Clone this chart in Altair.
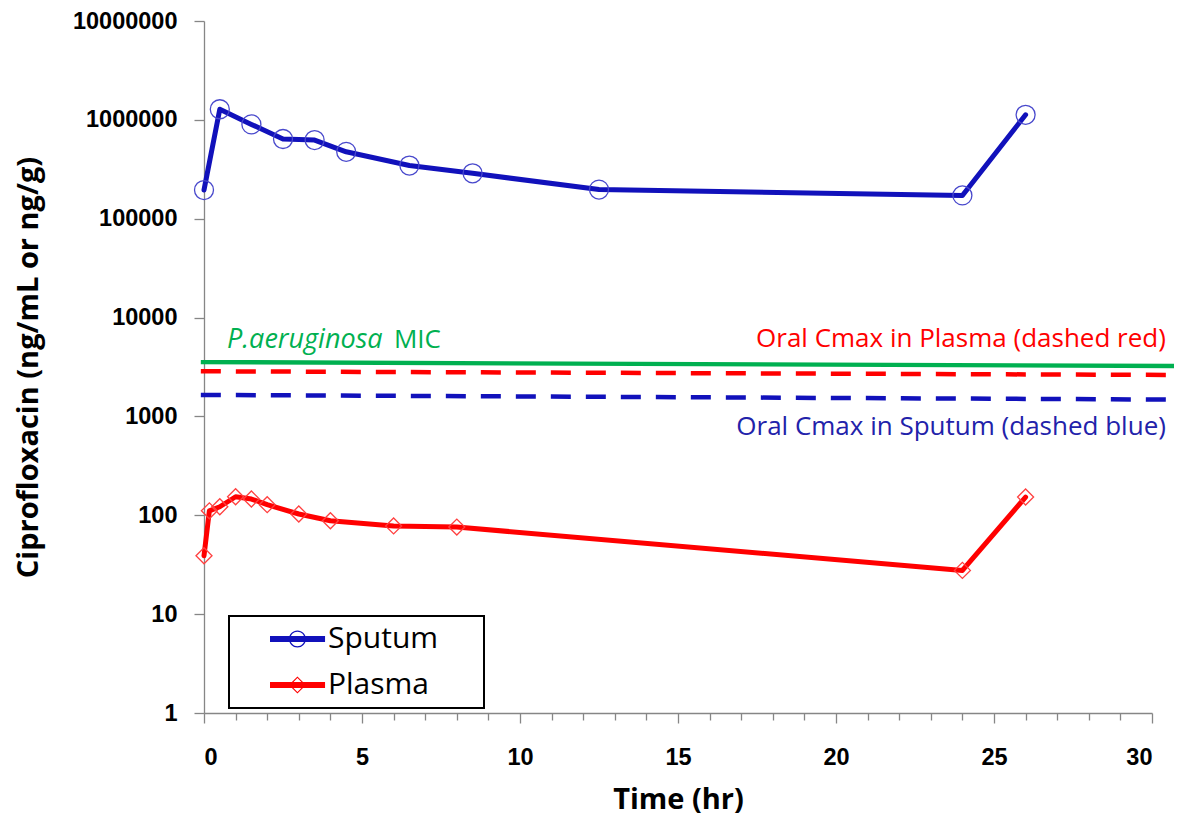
import altair as alt
import pandas as pd

# ---------------- data ----------------
sputum_time = [0, 0.5, 1.5, 2.5, 3.5, 4.5, 6.5, 8.5, 12.5, 24, 26]
sputum_conc = [195000, 1280000, 900000, 640000, 625000, 475000, 345000, 288000, 197000, 172000, 1125000]

plasma_time = [0, 0.17, 0.5, 1, 1.5, 2, 3, 4, 6, 8, 24, 26]
plasma_conc = [39, 111, 122, 154, 146, 128, 103, 88, 78, 76, 27.7, 153]

ref_time = [-0.1, 30.9]
mic_conc = [3550, 3235]
oral_plasma_cmax = [2863, 2625]
oral_sputum_cmax = [1650, 1479]

series_names = ["Sputum", "Plasma"]
y_ticks = [1, 10, 100, 1000, 10000, 100000, 1000000, 10000000]
x_ticks = list(range(0, 31))

ann_text = ["P.aeruginosa", "MIC", "Oral Cmax in Plasma (dashed red)", "Oral Cmax in Sputum (dashed blue)"]
ann_time = [0.73, 6.01, 30.44, 30.44]
ann_conc = [4920, 4920, 5030, 652]

# ---------------- styles ----------------
BLUE = "#1111BB"
BLUE_MK = "#4848CC"
RED = "#FF0000"
RED_MK = "#FF4040"
GREEN = "#00B050"
AXIS_GRAY = "#868686"
FONT = "Open Sans"
TICK_FONT = "Liberation Sans"

x_scale = alt.Scale(domain=[0, 30], nice=False, zero=False)
y_scale = alt.Scale(type="log", domain=[1, 10000000], nice=False)

x_axis = alt.Axis(
    values=x_ticks,
    labelExpr="datum.value % 5 === 0 ? datum.label : ''",
    tickSize={"condition": {"test": "datum.value % 5 === 0", "value": 10}, "value": 7},
    labelPadding=22,
    title="Time (hr)",
    titleBaseline="middle",
    titleY=86,
    grid=False,
)
y_axis = alt.Axis(
    values=y_ticks,
    format="d",
    tickSize=10,
    labelPadding=17,
    title="Ciprofloxacin (ng/mL or ng/g)",
    titleBaseline="middle",
    titleX=-176,
    grid=False,
)


def xy(df_x="t", df_y="c"):
    return dict(
        x=alt.X(f"{df_x}:Q", scale=x_scale, axis=x_axis),
        y=alt.Y(f"{df_y}:Q", scale=y_scale, axis=y_axis),
    )


sputum_df = pd.DataFrame({"t": sputum_time, "c": sputum_conc})
plasma_df = pd.DataFrame({"t": plasma_time, "c": plasma_conc})
mic_df = pd.DataFrame({"t": ref_time, "c": mic_conc})
orp_df = pd.DataFrame({"t": ref_time, "c": oral_plasma_cmax})
ors_df = pd.DataFrame({"t": ref_time, "c": oral_sputum_cmax})
ann_df = pd.DataFrame({"t": ann_time, "c": ann_conc, "label": ann_text})

mic_line = alt.Chart(mic_df).mark_line(color=GREEN, strokeWidth=4.3).encode(**xy())
orp_line = alt.Chart(orp_df).mark_line(color=RED, strokeWidth=4.5, strokeDash=[20, 15]).encode(**xy())
ors_line = alt.Chart(ors_df).mark_line(color=BLUE, strokeWidth=4.5, strokeDash=[20, 15]).encode(**xy())

sputum_line = alt.Chart(sputum_df).mark_line(
    color=BLUE, strokeWidth=5, strokeJoin="round", strokeCap="round"
).encode(**xy())
sputum_pts = alt.Chart(sputum_df).mark_point(
    shape="circle", filled=False, size=361, stroke=BLUE_MK, strokeWidth=1.3, opacity=1
).encode(**xy())

plasma_line = alt.Chart(plasma_df).mark_line(
    color=RED, strokeWidth=5, strokeJoin="round", strokeCap="round"
).encode(**xy())
plasma_pts = alt.Chart(plasma_df).mark_point(
    shape="diamond", filled=False, size=256, stroke=RED_MK, strokeWidth=1.3, opacity=1
).encode(**xy())

txt_mic_a = alt.Chart(ann_df).transform_filter("datum.label == 'P.aeruginosa'").mark_text(
    align="left", baseline="alphabetic", font=FONT, fontSize=27, fontStyle="italic", color=GREEN
).encode(text="label:N", **xy())
txt_mic_b = alt.Chart(ann_df).transform_filter("datum.label == 'MIC'").mark_text(
    align="left", baseline="alphabetic", font=FONT, fontSize=26, color=GREEN
).encode(text="label:N", **xy())
txt_orp = alt.Chart(ann_df).transform_filter("indexof(datum.label, 'Plasma') >= 0").mark_text(
    align="right", baseline="alphabetic", font=FONT, fontSize=26, color=RED
).encode(text="label:N", **xy())
txt_ors = alt.Chart(ann_df).transform_filter("indexof(datum.label, 'Sputum') >= 0").mark_text(
    align="right", baseline="alphabetic", font=FONT, fontSize=26, color="#2222AA"
).encode(text="label:N", **xy())

# legend symbols: thick line with an outlined marker (filled path with a hole)
path_sputum = (
    "M1.2,-0.2H4.87V0.2H1.2Z "
    "M3.6,0A0.57,0.57 0 1 1 2.46,0A0.57,0.57 0 1 1 3.6,0Z "
    "M3.51,0A0.48,0.48 0 1 0 2.55,0A0.48,0.48 0 1 0 3.51,0Z "
    "M14.87,0L14.87,0.001"
)
path_plasma = (
    "M1.2,-0.2H4.87V0.2H1.2Z "
    "M3.03,-0.57L3.6,0L3.03,0.57L2.46,0Z "
    "M3.03,-0.46L2.57,0L3.03,0.46L3.49,0Z "
    "M14.87,0L14.87,0.001"
)

legend = alt.Legend(
    orient="none",
    legendX=25,
    legendY=595,
    title=None,
    symbolSize=900,
    symbolStrokeWidth=0,
    symbolOpacity=1,
    labelOffset=61,
    rowPadding=16,
    labelFont=FONT,
    labelFontSize=30,
    labelColor="black",
    padding=8,
    strokeColor="black",
    fillColor="white",
)

leg_df = pd.DataFrame({"series": series_names, "t": [0, 0], "c": [1, 1]})
legend_layer = alt.Chart(leg_df).transform_filter("datum.t > 1000").mark_point(
    filled=True, opacity=1, strokeWidth=0
).encode(
    color=alt.Color("series:N", scale=alt.Scale(domain=series_names, range=[BLUE, RED]), legend=legend),
    shape=alt.Shape("series:N", scale=alt.Scale(domain=series_names, range=[path_sputum, path_plasma]), legend=legend),
    **xy(),
)

chart = alt.layer(
    mic_line, orp_line, ors_line,
    sputum_line, sputum_pts, plasma_line, plasma_pts,
    txt_mic_a, txt_mic_b, txt_orp, txt_ors,
    legend_layer,
).properties(
    width=948,
    height=692,
    autosize=alt.AutoSizeParams(type="none"),
    padding={"left": 196, "top": 13, "right": 22, "bottom": 105},
).configure_view(
    strokeWidth=0
).configure_axis(
    domainColor=AXIS_GRAY,
    domainWidth=1.3,
    tickColor=AXIS_GRAY,
    tickWidth=1.3,
    labelFont=TICK_FONT,
    labelFontSize=23.5,
    labelFontWeight="bold",
    labelColor="black",
    titleFont=FONT,
    titleFontSize=29,
    titleFontWeight="bold",
    titleColor="black",
).configure_legend(
    strokeWidth=2
)

chart.save("out.html", embed_options={"renderer": "svg", "actions": False})
